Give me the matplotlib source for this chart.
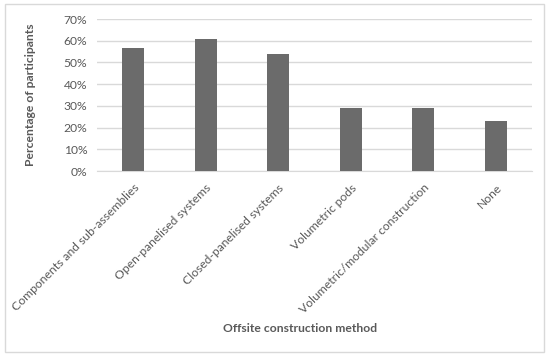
import matplotlib
matplotlib.use("Agg")
import matplotlib.pyplot as plt
from matplotlib.patches import Rectangle

methods = ["Components and sub-assemblies", "Open-panelised systems",
           "Closed-panelised systems", "Volumetric pods",
           "Volumetric/modular construction", "None"]
share = [56.5, 60.8, 53.7, 29.0, 29.0, 23.2]
yticks = [0, 10, 20, 30, 40, 50, 60, 70]

plt.rcParams['font.family'] = ['Lato', 'DejaVu Sans']
txt = "#595959"

fig = plt.figure(figsize=(5.5, 3.56), dpi=100)
fig.patches.append(Rectangle((5 / 550, 4 / 356), 539 / 550, 348 / 356,
                             transform=fig.transFigure, fill=False,
                             edgecolor="#d9d9d9", linewidth=1))
ax = fig.add_axes([97 / 550, 1 - 171 / 356, 435 / 550, 152 / 356])

x = range(len(methods))
ax.bar(x, share, width=0.31, color="#6b6b6b", zorder=3)
ax.set_xlim(-0.5, len(methods) - 0.5)
ax.set_ylim(0, 70)
ax.set_yticks(yticks)
ax.set_yticklabels([f"{v}%" for v in yticks], color=txt, fontsize=8.7)
ax.set_xticks(list(x))
ax.set_xticklabels(methods, rotation=45, ha="right", rotation_mode="anchor",
                   color=txt, fontsize=8.7)
ax.tick_params(axis="y", length=0, pad=7)
ax.tick_params(axis="x", length=0, pad=8)
ax.yaxis.grid(True, color="#d9d9d9", linewidth=1, zorder=0)
for s in ["top", "right", "left"]:
    ax.spines[s].set_visible(False)
ax.spines["bottom"].set_color("#d9d9d9")

ax.set_ylabel("Percentage of participants", color=txt, fontsize=8.7,
              fontweight="bold")
ax.yaxis.set_label_coords(-0.14, 0.5)
fig.text(300 / 550, 1 - 329 / 356, "Offsite construction method", color=txt,
         fontsize=8.7, fontweight="bold", ha="center", va="center")

fig.savefig("out.png", dpi=100)
